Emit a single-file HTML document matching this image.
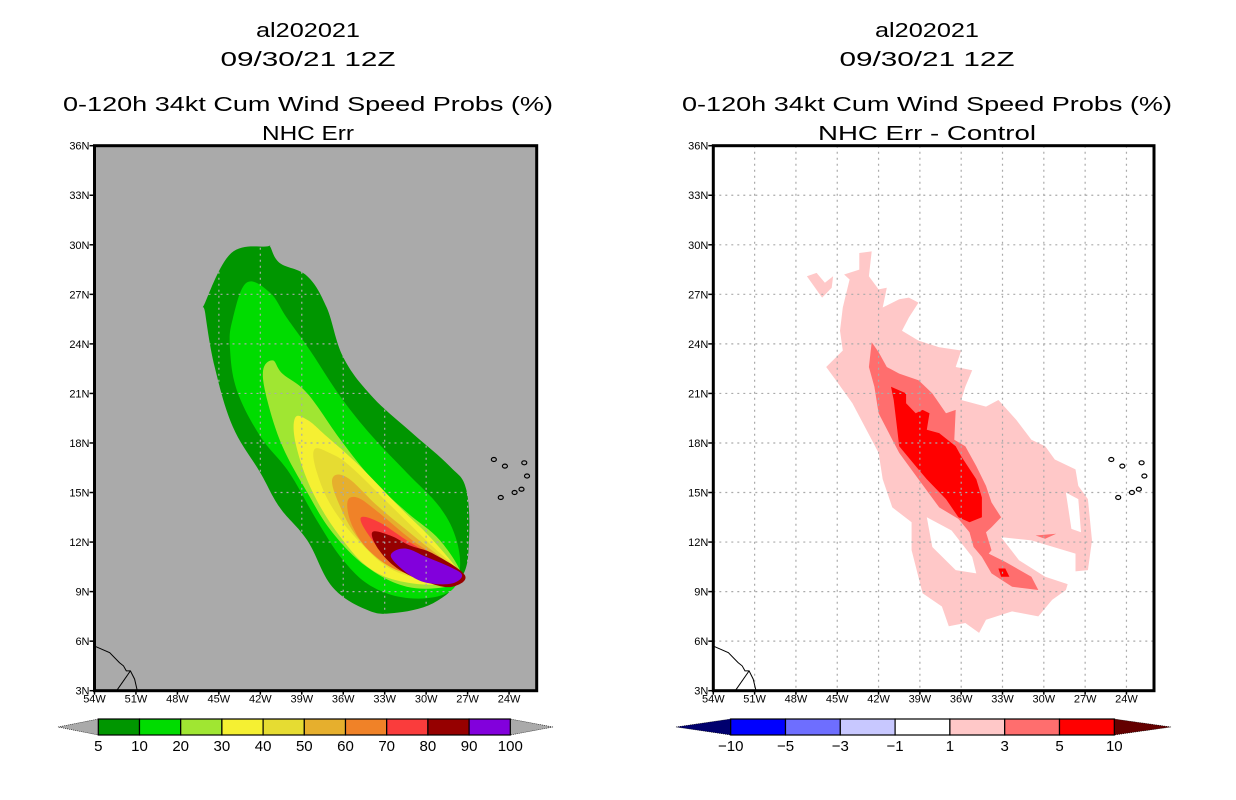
<!DOCTYPE html>
<html><head><meta charset="utf-8">
<style>
html,body{margin:0;padding:0;background:#fff;}
svg{display:block;font-family:"Liberation Sans",sans-serif;}
</style></head>
<body>
<svg id="fig" width="1236" height="800" viewBox="0 0 1236 800" xmlns="http://www.w3.org/2000/svg">
<rect x="0" y="0" width="1236" height="800" fill="#fff"/>
<g font-size="20" text-anchor="middle" fill="#000">
<text x="308" y="37" textLength="104" lengthAdjust="spacingAndGlyphs">al202021</text>
<text x="308" y="66" textLength="175" lengthAdjust="spacingAndGlyphs">09/30/21 12Z</text>
<text x="308" y="111" textLength="490" lengthAdjust="spacingAndGlyphs">0-120h 34kt Cum Wind Speed Probs (%)</text>
<text x="308" y="140" textLength="92" lengthAdjust="spacingAndGlyphs">NHC Err</text>
</g>
<g font-size="20" text-anchor="middle" fill="#000">
<text x="927" y="37" textLength="104" lengthAdjust="spacingAndGlyphs">al202021</text>
<text x="927" y="66" textLength="175" lengthAdjust="spacingAndGlyphs">09/30/21 12Z</text>
<text x="927" y="111" textLength="490" lengthAdjust="spacingAndGlyphs">0-120h 34kt Cum Wind Speed Probs (%)</text>
<text x="927" y="140" textLength="218" lengthAdjust="spacingAndGlyphs">NHC Err - Control</text>
</g>
<g id="left"></g>
<g id="right"></g>
<g id="cbl"></g>
<g id="cbr"></g>
</svg>
<script>
// ---- axis data ----
const lonTicks = [54,51,48,45,42,39,36,33,30,27,24];
const latTicks = [36,33,30,27,24,21,18,15,12,9,6,3];
const lonMin = 54, lonMax = 22, latMin = 3, latMax = 36;

// ---- left panel: probability contours (lonW, latN) ----
const probLevels = [5,10,20,30,40,50,60,70,80,90];
const probColors = ["#009600","#00dc00","#a0e632","#f5f032","#e6dc32","#e6af2d","#f08228","#fa3c3c","#960000","#8200dc"];
const prob5 = [[41.5,29.9],[44.1,29.5],[46.0,26.5],[46.0,25.9],[45.3,22.6],[44.0,19.0],[42.0,16.2],[40.6,14.1],[38.6,12.1],[36.8,9.3],[34.3,7.9],[32.4,7.7],[29.5,8.3],[27.4,9.9],[26.9,12.1],[27.1,15.2],[28.3,16.6],[31.0,18.6],[33.9,20.8],[36.0,23.2],[37.2,26.2],[38.6,28.1],[40.6,28.9],[41.3,29.9]];
const prob10 = [[43.0,27.7],[44.0,25.5],[44.2,23.8],[43.7,21.2],[42.0,18.4],[39.9,16.2],[37.9,13.3],[36.0,10.9],[33.9,9.3],[31.2,8.6],[28.5,8.9],[27.6,10.1],[27.8,12.1],[29.0,14.1],[31.4,16.2],[33.9,18.4],[36.2,20.8],[38.4,23.6],[40.1,25.6],[41.3,27.1]];
const prob20 = [[41.1,23.0],[41.8,22.4],[41.5,20.6],[40.4,17.8],[38.6,15.0],[36.8,12.6],[34.3,10.5],[31.4,9.3],[28.5,9.3],[27.4,9.9],[29.0,12.1],[31.4,13.8],[33.9,15.8],[36.2,18.2],[38.6,21.0],[40.4,22.2]];
const prob30 = [[39.5,19.5],[39.4,17.8],[38.2,15.0],[36.2,12.3],[33.9,10.3],[31.0,9.5],[28.1,9.5],[27.4,9.9],[29.5,12.1],[31.9,14.1],[34.8,16.6],[37.2,18.4],[38.6,19.4]];
const prob40 = [[38.1,17.6],[37.9,16.2],[36.8,14.1],[34.8,12.0],[32.4,10.3],[29.5,9.7],[27.4,9.9],[30.0,12.1],[32.8,14.4],[35.5,16.6],[37.0,17.4]];
const prob50 = [[36.8,15.8],[36.2,14.1],[34.8,12.1],[32.6,10.5],[29.7,9.9],[27.4,9.9],[30.5,12.1],[33.4,14.1],[35.7,15.9]];
const prob60 = [[35.7,14.4],[35.3,12.9],[33.9,11.3],[31.4,10.1],[27.4,9.9],[31.0,12.1],[33.6,13.9],[35.0,14.7]];
const prob70 = [[34.7,13.5],[34.3,12.6],[32.8,11.1],[30.7,10.1],[27.4,9.9],[31.4,12.1],[33.4,13.2]];
const prob80 = [[33.9,12.6],[33.4,11.5],[31.9,10.3],[29.7,9.5],[28.1,9.3],[27.2,10.0],[29.5,11.3],[31.2,11.8],[32.6,12.4]];
const prob90 = [[32.4,11.4],[32.4,10.9],[31.0,9.9],[29.7,9.5],[28.1,9.5],[27.4,10.0],[28.3,10.5],[30.0,11.1],[31.4,11.6]];
const probPolys = [prob5,prob10,prob20,prob30,prob40,prob50,prob60,prob70,prob80,prob90];

// ---- right panel: difference contours ----
const diffLevels = [-10,-5,-3,-1,1,3,5,10];
const diffColors = ["#00006e","#0000ff","#6e6eff","#c8c8ff","#ffffff","#ffc8c8","#ff6e6e","#ff0000","#640000"];
const diff1Main = [[43.4,29.5],[42.5,29.6],[42.7,28.1],[42.0,27.3],[41.4,27.4],[41.7,26.2],[40.5,26.7],[39.8,26.8],[39.1,26.5],[39.8,25.6],[40.3,24.8],[39.1,24.2],[37.6,23.8],[36.0,23.6],[36.4,22.6],[35.2,22.4],[35.7,21.4],[36.0,20.6],[34.2,20.2],[33.3,20.6],[32.0,19.4],[30.9,18.2],[29.9,17.8],[29.2,17.0],[27.7,16.4],[27.5,15.4],[26.8,14.6],[26.5,12.1],[26.8,10.3],[28.0,10.2],[28.4,9.1],[29.4,8.5],[30.4,7.5],[32.3,7.8],[34.2,7.3],[34.7,6.5],[35.7,7.1],[36.9,6.9],[37.4,8.1],[38.8,8.9],[39.6,11.5],[39.6,13.2],[41.0,14.1],[41.7,15.8],[42.0,17.4],[42.5,18.2],[43.9,20.4],[45.1,21.8],[45.8,22.6],[44.6,23.6],[44.8,24.8],[44.6,26.2],[44.1,27.9],[44.5,28.2],[43.4,28.5]];
const diff1Blob = [[47.2,28.1],[46.5,28.3],[45.9,27.7],[45.3,28.1],[45.4,27.4],[46.1,26.8]];
const diffHole1 = [[38.5,13.5],[36.7,12.7],[35.2,11.1],[34.9,10.1],[36.4,10.3],[38.1,11.7]];
const diffHole2 = [[33.1,12.3],[30.9,12.1],[27.7,11.3],[27.7,9.3],[29.9,9.9],[31.8,10.9]];
const diffHole3 = [[28.4,15.0],[27.5,14.6],[27.3,12.6],[28.0,12.8]];
const diff3Main = [[42.5,24.1],[42.0,23.5],[41.4,22.6],[40.5,22.2],[39.1,21.8],[38.1,21.0],[37.1,19.8],[36.4,20.0],[36.5,18.2],[35.7,17.8],[34.9,16.6],[34.2,15.4],[33.8,14.4],[33.1,13.5],[33.8,12.9],[34.2,12.6],[33.8,11.5],[34.0,11.3],[32.8,10.8],[30.9,9.9],[30.4,9.1],[32.3,9.3],[33.8,10.1],[34.5,11.1],[35.1,11.7],[35.4,12.6],[36.2,13.4],[37.6,14.1],[39.1,15.8],[40.5,17.4],[41.0,18.2],[42.0,19.8],[42.3,21.4],[42.7,22.6]];
const diff3Streak = [[30.6,12.4],[29.1,12.5],[29.9,12.2]];
const diff5Main = [[41.1,21.4],[40.0,21.0],[40.0,20.4],[39.3,19.8],[38.8,20.0],[38.3,19.8],[38.5,18.8],[37.6,18.6],[36.4,17.8],[36.0,17.2],[34.9,15.8],[34.5,14.7],[34.5,13.5],[35.4,13.2],[36.2,13.5],[37.1,14.6],[38.5,15.8],[39.3,16.6],[40.5,17.8],[40.7,19.2],[40.9,20.6]];
const diff5Small = [[33.3,10.4],[32.8,10.4],[32.5,9.9],[33.1,9.9]];

// ---- geography ----
const coastMain = [[54.0,5.7],[52.9,5.3],[52.2,4.7],[51.9,4.5],[51.7,4.2],[51.4,4.2],[51.1,3.7],[50.9,3.0]];
const coastBranch = [[52.4,3.0],[51.4,4.2]];
const islands = [[25.1,17.0],[24.3,16.6],[22.9,16.8],[22.7,16.0],[24.6,14.7],[23.6,15.0],[23.1,15.2]];

const NS = "http://www.w3.org/2000/svg";
function mk(tag, attrs, parent){const e=document.createElementNS(NS,tag);for(const k in attrs)e.setAttribute(k,attrs[k]);parent.appendChild(e);return e;}

function smoothPath(P){
  const n=P.length; let d="M"+P[0][0].toFixed(1)+","+P[0][1].toFixed(1);
  for(let i=0;i<n;i++){
    const p0=P[(i-1+n)%n],p1=P[i],p2=P[(i+1)%n],p3=P[(i+2)%n];
    const t=0.18;
    const c1=[p1[0]+(p2[0]-p0[0])*t,p1[1]+(p2[1]-p0[1])*t];
    const c2=[p2[0]-(p3[0]-p1[0])*t,p2[1]-(p3[1]-p1[1])*t];
    d+=" C"+c1[0].toFixed(1)+","+c1[1].toFixed(1)+" "+c2[0].toFixed(1)+","+c2[1].toFixed(1)+" "+p2[0].toFixed(1)+","+p2[1].toFixed(1);
  }
  return d+"Z";
}

function makePanel(g, x0, x1, y0, y1, bg, gridColor, polys, smooth){
  const xs = lon => x0 + (lonMin - lon) / (lonMin - lonMax) * (x1 - x0);
  const ys = lat => y0 + (latMax - lat) / (latMax - latMin) * (y1 - y0);
  const pts = arr => arr.map(p => xs(p[0]).toFixed(1)+","+ys(p[1]).toFixed(1)).join(" ");
  const bgR = mk("rect",{x:x0,y:y0,width:x1-x0,height:y1-y0,fill:bg},g);
  
  
  polys.forEach(p=>{
    let el;
    if(smooth){
      el = mk("path",{d:smoothPath(p.d.map(q=>[xs(q[0]),ys(q[1])])),fill:p.c},g);
    } else {
      el = mk("polygon",{points:pts(p.d),fill:p.c},g);
    }
    
    
  });
  lonTicks.forEach(l=>{ if(l<lonMin && l>lonMax){
    const ln = mk("line",{x1:xs(l),x2:xs(l),y1:y0,y2:y1,stroke:gridColor,"stroke-width":1.2,"stroke-dasharray":"2,4"},g);
    
    
  }});
  latTicks.forEach(l=>{ if(l<latMax && l>latMin){
    const ln = mk("line",{x1:x0,x2:x1,y1:ys(l),y2:ys(l),stroke:gridColor,"stroke-width":1.2,"stroke-dasharray":"2,4"},g);
    
    
  }});
  const c1 = mk("polyline",{points:pts(coastMain),fill:"none",stroke:"#000","stroke-width":1},g);
  
  
  const c2 = mk("polyline",{points:pts(coastBranch),fill:"none",stroke:"#000","stroke-width":1},g);
  
  
  islands.forEach(p=>{
    const e = mk("ellipse",{cx:xs(p[0]),cy:ys(p[1]),rx:2.5,ry:2,fill:"none",stroke:"#000","stroke-width":1.2},g);
    
    
  });
  const fr = mk("rect",{x:x0,y:y0,width:x1-x0,height:y1-y0,fill:"none",stroke:"#000","stroke-width":3},g);
  
  
  latTicks.forEach(l=>{
    const t = mk("line",{x1:x0-5,x2:x0,y1:ys(l),y2:ys(l),stroke:"#000","stroke-width":1.5},g);
    
    
    const tx = mk("text",{x:x0-5,y:ys(l)+4,"font-size":11,"text-anchor":"end"},g);
    tx.textContent = l+"N";
    
    
  });
  lonTicks.forEach(l=>{
    const t = mk("line",{x1:xs(l),x2:xs(l),y1:y1,y2:y1+4,stroke:"#000","stroke-width":1.5},g);
    
    
    const tx = mk("text",{x:xs(l),y:y1+12,"font-size":11,"text-anchor":"middle"},g);
    tx.textContent = l+"W";
    
    
  });
}

const leftPolys = probPolys.map((d,i)=>({d:d,c:probColors[i],n:'prob-contour-'+probLevels[i]}));
makePanel(document.getElementById('left'),94.5,536.7,145.7,690.7,"#aaaaaa","#aaaaaa",leftPolys,true);

const rightPolys = [
  {d:diff1Main,c:diffColors[5],n:'diff-contour-1'},
  {d:diff1Blob,c:diffColors[5],n:'diff-contour-1-blob'},
  {d:diffHole1,c:diffColors[4],n:'diff-gap'},
  {d:diffHole2,c:diffColors[4],n:'diff-gap'},
  {d:diffHole3,c:diffColors[4],n:'diff-gap'},
  {d:diff3Main,c:diffColors[6],n:'diff-contour-3'},
  {d:diff3Streak,c:diffColors[6],n:'diff-contour-3-streak'},
  {d:diff5Main,c:diffColors[7],n:'diff-contour-5'},
  {d:diff5Small,c:diffColors[7],n:'diff-contour-5-small'}
];
makePanel(document.getElementById('right'),713.3,1154,145.7,690.7,"#ffffff","#aaaaaa",rightPolys,false);

function colorbar(g, tipL, bx0, bx1, tipR, y0, y1, colors, labels, leftTip, rightTip){
  const n = colors.length;
  const w = (bx1-bx0)/n, ym=(y0+y1)/2;
  const tl = mk("polygon",{points:`${tipL},${ym} ${bx0},${y0} ${bx0},${y1}`,fill:leftTip,stroke:"#000","stroke-width":0.6,"stroke-dasharray":"1,1"},g);
  
  
  const tr = mk("polygon",{points:`${tipR},${ym} ${bx1},${y0} ${bx1},${y1}`,fill:rightTip,stroke:"#000","stroke-width":0.6,"stroke-dasharray":"1,1"},g);
  
  
  colors.forEach((c,i)=>{
    const r = mk("rect",{x:bx0+i*w,y:y0,width:w,height:y1-y0,fill:c,stroke:"#000","stroke-width":1.2},g);
    
    
  });
  labels.forEach((l,i)=>{
    const t = mk("text",{x:bx0+i*w,y:y1+16,"font-size":15,"text-anchor":"middle"},g);
    t.textContent = String(l).replace('-','\u2212');
    
    
  });
}
colorbar(document.getElementById('cbl'),58,98.3,510.3,553,719,735,probColors,[5,10,20,30,40,50,60,70,80,90,100],"#aaaaaa","#aaaaaa");
colorbar(document.getElementById('cbr'),676,730.7,1114.3,1171,719,735,diffColors.slice(1,8),diffLevels,diffColors[0],diffColors[8]);
</script>
</body></html>
